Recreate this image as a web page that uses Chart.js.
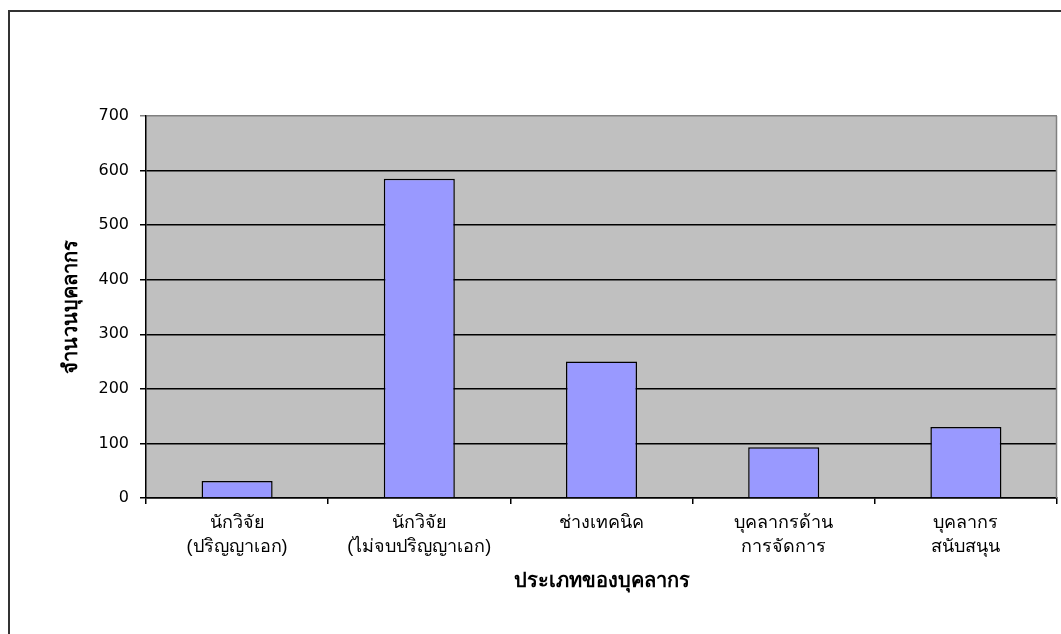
<!DOCTYPE html>
<html>
<head>
<meta charset="utf-8">
<script src="https://cdn.jsdelivr.net/npm/chart.js@4.4.1/dist/chart.umd.min.js"></script>
<style>
  html, body { margin: 0; padding: 0; background: #fff; }
  #wrap { width: 1061px; height: 634px; position: relative; }
</style>
</head>
<body>
<div id="wrap"><canvas id="staffChart"></canvas></div>
<script>
const categories = [
  ["นักวิจัย", "(ปริญญาเอก)"],
  ["นักวิจัย", "(ไม่จบปริญญาเอก)"],
  ["ช่างเทคนิค"],
  ["บุคลากรด้าน", "การจัดการ"],
  ["บุคลากร", "สนับสนุน"],
];
const staffCounts = [31, 585, 250, 93, 130];
const yTicks = [0, 100, 200, 300, 400, 500, 600, 700];
const xTitle = "ประเภทของบุคลากร";
const yTitle = "จำนวนบุคลากร";

const thaiFont = "Tahoma, 'Liberation Sans', 'DejaVu Sans', sans-serif";

// white page, outer frame, grey plot background
const framePlugin = {
  id: "frame",
  beforeDraw(chart) {
    const { ctx, chartArea: a } = chart;
    ctx.save();
    ctx.fillStyle = "#fff";
    ctx.fillRect(0, 0, chart.width, chart.height);
    ctx.strokeStyle = "#333";
    ctx.lineWidth = 2;
    ctx.beginPath();
    ctx.moveTo(9, chart.height);
    ctx.lineTo(9, 11);
    ctx.lineTo(chart.width, 11);
    ctx.stroke();
    ctx.fillStyle = "#c0c0c0";
    ctx.fillRect(a.left, a.top, a.right - a.left, a.bottom - a.top);
    ctx.restore();
  },
  beforeDatasetsDraw(chart) {
    const { ctx, chartArea: a } = chart;
    ctx.save();
    ctx.strokeStyle = "#808080";
    ctx.lineWidth = 1.5;
    ctx.beginPath();
    ctx.moveTo(a.right - 0.5, a.top);
    ctx.lineTo(a.right - 0.5, a.bottom);
    ctx.stroke();
    ctx.restore();
  },
};

new Chart(document.getElementById("staffChart"), {
  type: "bar",
  data: {
    labels: categories,
    datasets: [
      {
        data: staffCounts,
        backgroundColor: "#9999ff",
        borderColor: "#000",
        borderWidth: 1.5,
        categoryPercentage: 1,
        barPercentage: 0.39,
      },
    ],
  },
  options: {
    responsive: true,
    maintainAspectRatio: false,
    animation: false,
    layout: { padding: { top: 116, right: 4, left: 0, bottom: 0 } },
    plugins: {
      legend: { display: false },
      tooltip: { enabled: false },
    },
    scales: {
      x: {
        offset: true,
        grid: {
          offset: true,
          drawOnChartArea: false,
          drawTicks: true,
          tickLength: 6,
          color: "#000",
          lineWidth: 1.5,
        },
        border: { color: "#000", width: 1.5 },
        ticks: {
          color: "#000",
          padding: 7,
          maxRotation: 0,
          autoSkip: false,
          font: { family: thaiFont, size: 18, lineHeight: "24px" },
        },
        title: {
          display: true,
          text: xTitle,
          color: "#000",
          padding: { top: 0, bottom: 41 },
          font: { family: thaiFont, size: 20, weight: "bold", lineHeight: 1.2 },
        },
        afterFit(scale) {
          scale.height = 136;
        },
      },
      y: {
        min: 0,
        max: 700,
        afterBuildTicks(scale) {
          scale.ticks = yTicks.map((v) => ({ value: v }));
        },
        grid: {
          color: (c) => (c.tick && c.tick.value === 700 ? "#808080" : "#000"),
          lineWidth: 1.5,
          drawTicks: true,
          tickLength: 6,
        },
        border: { color: "#000", width: 1.5 },
        ticks: {
          color: "#000",
          padding: 11,
          font: { family: "'DejaVu Sans', sans-serif", size: 16 },
        },
        title: {
          display: true,
          text: yTitle,
          color: "#000",
          padding: { top: 59, bottom: 0 },
          font: { family: thaiFont, size: 20, weight: "bold", lineHeight: 1.2 },
        },
        afterFit(scale) {
          scale.width = 146;
        },
      },
    },
  },
  plugins: [framePlugin],
});
</script>
</body>
</html>
